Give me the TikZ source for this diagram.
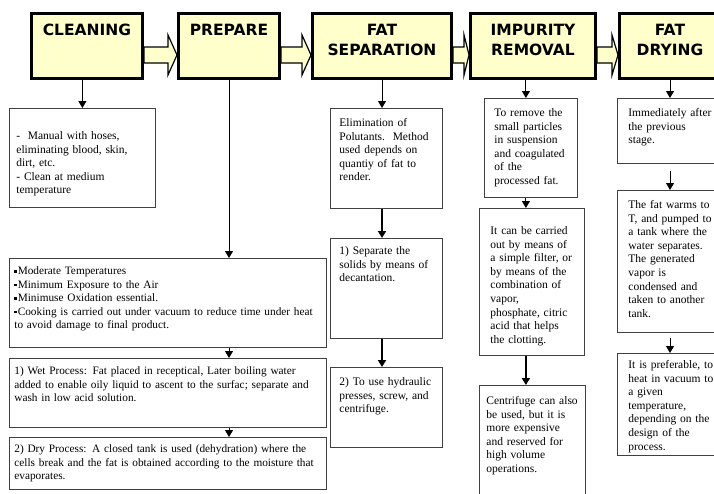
\documentclass[tikz,border=0pt]{standalone}
\usepackage{fontspec}
\setmainfont{Liberation Serif}
\newfontfamily\titlefont{DejaVu Sans}
\usetikzlibrary{arrows.meta}
\definecolor{stagefill}{RGB}{255,255,204}
\definecolor{noteline}{RGB}{64,64,64}
\newcommand{\sqbullet}{\raisebox{1.8pt}{\rule{2.6pt}{2.6pt}}\kern0.8pt}

\begin{document}
\begin{tikzpicture}[x=1pt, y=-1pt]
    \tikzstyle{stage}=[draw, line width=3pt, fill=stagefill, inner sep=0pt,
        align=center, text height=21.5pt, text depth=43.5pt,
        font=\titlefont\bfseries\fontsize{15.5}{20}\selectfont]
    \tikzstyle{twoline}=[text height=41.5pt, text depth=23.5pt]
    \tikzstyle{note}=[draw=noteline, line width=0.8pt, anchor=north west,
        inner ysep=0pt, align=left, font=\fontsize{11.5}{13.6}\selectfont]
    \tikzstyle{wide}=[inner xsep=5pt, text width=307pt,
        font=\fontsize{11.3}{13.6}\selectfont]
    \tikzstyle{flow}=[line width=1pt, -{Triangle[length=7pt, width=8pt]}]
    \tikzstyle{heavyflow}=[flow, line width=1.8pt]
    \tikzstyle{blockarrow}=[draw, line width=1.2pt, fill=stagefill, line join=miter]

    \clip (0,0) rectangle (714,493);

    % stages
    \node[stage, minimum width=111pt] (cleaning) at (87,46) {CLEANING};
    \node[stage, minimum width=101pt] (prepare) at (229,46) {PREPARE};
    \node[stage, twoline, minimum width=139pt] (fatsep) at (382,46) {FAT\\SEPARATION};
    \node[stage, twoline, minimum width=125pt] (impurity) at (533,46) {IMPURITY\\REMOVAL};
    \node[stage, twoline, minimum width=101pt] (drying) at (670,46) {FAT\\DRYING};

    \foreach \a/\b/\h in {cleaning/prepare/9, prepare/fatsep/9,
                          fatsep/impurity/5, impurity/drying/6}
        \draw[blockarrow] (\a.east |- 0,47) -- ([xshift=-\h pt]\b.west |- 0,47)
            -- ([xshift=-\h pt]\b.west |- 0,35) -- (\b.west |- 0,55)
            -- ([xshift=-\h pt]\b.west |- 0,75) -- ([xshift=-\h pt]\b.west |- 0,63)
            -- (\a.east |- 0,63) -- cycle;

    % cleaning
    \node[note, inner xsep=7pt, text width=132pt, text height=31pt, text depth=68pt]
        (c1) at (9,108) {-\ \ Manual with hoses,\\ eliminating blood, skin,\\
        dirt, etc.\\ - Clean at medium\\ temperature};

    % prepare
    \node[note, wide, text height=16pt, text depth=73pt]
        (p1) at (9,258) {\sqbullet Moderate Temperatures\\
        \sqbullet Minimum Exposure to the Air\\
        \sqbullet Minimuse Oxidation essential.\\
        \sqbullet Cooking is carried out under vacuum to reduce time under heat\\
        to avoid damage to final product.};
    \node[note, wide, text height=16pt, text depth=53pt]
        (p2) at (9,358) {1) Wet Process: Fat placed in receptical, Later boiling water\\
        added to enable oily liquid to ascent to the surfac; separate and\\
        wash in low acid solution.};
    \node[note, wide, text height=15pt, text depth=37pt]
        (p3) at (9,437) {2) Dry Process: A closed tank is used (dehydration) where the\\
        cells break and the fat is obtained according to the moisture that\\
        evaporates.};

    % fat separation
    \node[note, inner xsep=9pt, text width=94pt, text height=18pt, text depth=82pt]
        (s1) at (330,108) {Elimination of\\ Polutants.\ \ Method\\ used depends on\\
        quantiy of fat to\\ render.};
    \node[note, inner xsep=9pt, text width=94pt, text height=16pt, text depth=84pt]
        (s2) at (330,238) {1) Separate the\\ solids by means of\\ decantation.};
    \node[note, inner xsep=9pt, text width=94pt, text height=18pt, text depth=62pt]
        (s3) at (330,367) {2) To use hydraulic\\ presses, screw, and\\ centrifuge.};

    % impurity removal
    \node[note, inner xsep=10pt, text width=73pt, text height=18pt, text depth=81pt]
        (i1) at (484,98) {To remove the\\ small particles\\ in suspension\\
        and coagulated\\ of the\\ processed fat.};
    \node[note, inner xsep=11pt, text width=83pt, text height=26pt, text depth=121pt]
        (i2) at (479,208) {It can be carried\\ out by means of\\ a simple filter, or\\
        by means of the\\ combination of\\ vapor,\\ phosphate, citric\\
        acid that helps\\ the clotting.};
    \node[note, inner xsep=7pt, text width=92pt, text height=19pt, text depth=111pt]
        (i3) at (479,385) {Centrifuge can also\\ be used, but it is\\ more expensive\\
        and reserved for\\ high volume\\ operations.};

    % fat drying
    \node[note, inner xsep=11pt, text width=88pt, text height=18pt, text depth=47pt]
        (d1) at (617,98) {Immediately after\\ the previous\\ stage.};
    \node[note, inner xsep=11pt, text width=88pt, text height=18pt, text depth=124pt]
        (d2) at (617,190) {The fat warms to\\ T, and pumped to\\ a tank where the\\
        water separates.\\ The generated\\ vapor is\\ condensed and\\
        taken to another\\ tank.};
    \node[note, inner xsep=11pt, text width=88pt, text height=15pt, text depth=87pt]
        (d3) at (617,353) {It is preferable, to\\ heat in vacuum to\\ a given\\
        temperature,\\ depending on the\\ design of the\\ process.};

    \draw[flow] (cleaning.south -| c1.north) -- (c1.north);

    \draw[flow] (prepare.south) -- (prepare.south |- p1.north);
    \draw[flow] (p1.south -| prepare.south) -- (p2.north -| prepare.south);
    \draw[flow] (p2.south -| prepare.south) -- (p3.north -| prepare.south);

    \draw[flow] (fatsep.south) -- (fatsep.south |- s1.north);
    \draw[heavyflow] (s1.south -| fatsep.south) -- (s2.north -| fatsep.south);
    \draw[heavyflow] (s2.south -| fatsep.south) -- (s3.north -| fatsep.south);

    \draw[flow] ([xshift=-5pt]impurity.south -| i1.north) -- ([xshift=-5pt]i1.north);
    \draw[flow] ([xshift=-5pt]i1.south) -- ([xshift=-5pt]i1.south |- i2.north);
    \draw[heavyflow] ([xshift=-5pt]i2.south -| i1.south) -- ([xshift=-5pt]i3.north -| i1.south);

    \draw[flow] (drying.south) -- (drying.south |- d1.north);
    \draw[flow, shorten <=7pt] (d1.south -| drying.south) -- (d2.north -| drying.south);
    \draw[flow, shorten <=5pt] (d2.south -| drying.south) -- (d3.north -| drying.south);

\end{tikzpicture}
\end{document}
